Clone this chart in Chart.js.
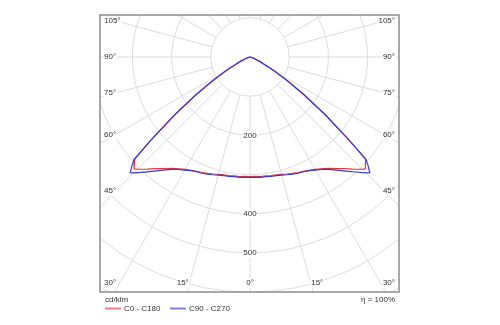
<!DOCTYPE html>
<html>
<head>
<meta charset="utf-8">
<script src="https://cdn.jsdelivr.net/npm/chart.js@4.4.1/dist/chart.umd.min.js"></script>
<style>
  html, body { margin: 0; padding: 0; background: #fff; }
</style>
</head>
<body>
<canvas id="lvk" width="500" height="325"></canvas>
<script>
// gamma angle in degrees, 0 = straight down, 180 = straight up
const gammas = [0, 2.5, 5, 7.5, 10, 12.5, 15, 17.5, 20, 22.5, 25, 27.5, 30, 32.5, 35, 37.5,
                40, 42.5, 45, 46, 47.5, 48.5, 50, 52.5, 55, 57.5, 60, 62.5, 65, 70, 75, 80, 90, 120, 150, 180];
// luminous intensity in cd/klm
const c0c180 = [305, 305, 306, 306, 307, 308, 310, 313, 316, 319, 322, 326, 331, 338, 347, 359,
                372, 388, 405, 411, 401, 392, 330, 242, 170, 115, 72, 45, 28, 10, 3, 0, 0, 0, 0, 0];
const c90c270 = [307, 307, 308, 308, 309, 310, 312, 315, 318, 321, 323, 327, 333, 340, 350, 364,
                 380, 398, 418, 425, 408, 395, 330, 242, 170, 115, 72, 45, 28, 10, 3, 0, 0, 0, 0, 0];
const seriesNames = ['C0 - C180', 'C90 - C270'];
const rings = [100, 200, 300, 400, 500, 600, 700, 800];
const ringLabels = [200, 400, 500];
const sideAngles = [45, 60, 75, 90, 105];
const bottomAngles = [0, 15, 30];
const unitText = 'cd/klm';
const efficiencyText = 'η = 100%';

const FONT = '8px "Liberation Sans", Arial, sans-serif';
const RED = '#e0393e';
const BLUE = '#3a3ad6';

// one closed outline: left half plane (C180 / C270) up to down, then right half back up
function outline(values) {
  const pts = [];
  for (let i = gammas.length - 1; i >= 0; i--) {
    const t = gammas[i] * Math.PI / 180;
    pts.push({ x: -values[i] * Math.sin(t), y: -values[i] * Math.cos(t) });
  }
  for (let i = 1; i < gammas.length; i++) {
    const t = gammas[i] * Math.PI / 180;
    pts.push({ x: values[i] * Math.sin(t), y: -values[i] * Math.cos(t) });
  }
  return pts;
}

function labelBox(ctx, text, x, y, align) {
  const w = ctx.measureText(text).width;
  let left = x - w / 2;
  if (align === 'left') left = x;
  if (align === 'right') left = x - w;
  ctx.fillStyle = '#fff';
  ctx.fillRect(left - 1, y - 5, w + 2, 10);
  ctx.fillStyle = '#333';
  ctx.textAlign = align;
  ctx.fillText(text, x, y);
}

const polarGrid = {
  id: 'polarGrid',
  beforeDatasetsDraw(chart) {
    const { ctx, chartArea: a, scales: { x, y } } = chart;
    const cx = x.getPixelForValue(0);
    const cy = y.getPixelForValue(0);
    const rad = v => x.getPixelForValue(v) - cx;

    ctx.save();
    ctx.beginPath();
    ctx.rect(a.left, a.top, a.right - a.left, a.bottom - a.top);
    ctx.clip();

    ctx.strokeStyle = '#dcdcdc';
    ctx.lineWidth = 1;
    rings.forEach(r => {
      ctx.beginPath();
      ctx.arc(cx, cy, rad(r), 0, Math.PI * 2);
      ctx.stroke();
    });
    // spokes every 15°, starting at the first ring
    for (let g = 0; g < 360; g += 15) {
      const t = g * Math.PI / 180;
      const s = Math.sin(t), c = Math.cos(t);
      ctx.beginPath();
      ctx.moveTo(cx + rad(rings[0]) * s, cy + rad(rings[0]) * c);
      ctx.lineTo(cx + rad(1000) * s, cy + rad(1000) * c);
      ctx.stroke();
    }

    ctx.font = FONT;
    ctx.textBaseline = 'middle';
    ringLabels.forEach(v => labelBox(ctx, String(v), cx, y.getPixelForValue(-v), 'center'));

    sideAngles.forEach(g => {
      const ty = cy + 134 / Math.tan(g * Math.PI / 180);
      labelBox(ctx, g + '°', a.left + 4, ty, 'left');
      labelBox(ctx, g + '°', a.right - 4, ty, 'right');
    });
    const by = a.bottom - 9;
    bottomAngles.forEach(g => {
      const dx = 251 * Math.tan(g * Math.PI / 180);
      if (g === 0) {
        labelBox(ctx, '0°', cx, by, 'center');
        return;
      }
      if (cx - dx < a.left + 12) {
        labelBox(ctx, g + '°', a.left + 4, by, 'left');
        labelBox(ctx, g + '°', a.right - 4, by, 'right');
      } else {
        labelBox(ctx, g + '°', cx - dx, by, 'center');
        labelBox(ctx, g + '°', cx + dx, by, 'center');
      }
    });
    ctx.restore();
  },
  afterDraw(chart) {
    const { ctx, chartArea: a } = chart;
    ctx.save();
    ctx.strokeStyle = '#8c8c8c';
    ctx.lineWidth = 1.5;
    ctx.strokeRect(a.left, a.top, a.right - a.left, a.bottom - a.top);

    // legend under the frame
    ctx.font = FONT;
    ctx.textBaseline = 'middle';
    ctx.fillStyle = '#333';
    ctx.textAlign = 'left';
    ctx.fillText(unitText, a.left + 5, a.bottom + 8);
    ctx.textAlign = 'right';
    ctx.fillText(efficiencyText, a.right - 4, a.bottom + 8);

    let lx = a.left + 5;
    const ly = a.bottom + 16.5;
    chart.data.datasets.forEach(ds => {
      ctx.strokeStyle = ds.borderColor;
      ctx.globalAlpha = 0.65;
      ctx.lineWidth = 2;
      ctx.beginPath();
      ctx.moveTo(lx, ly);
      ctx.lineTo(lx + 16, ly);
      ctx.stroke();
      ctx.globalAlpha = 1;
      ctx.fillStyle = '#333';
      ctx.textAlign = 'left';
      ctx.fillText(ds.label, lx + 19, ly);
      lx += 65;
    });
    ctx.restore();
  }
};

new Chart(document.getElementById('lvk'), {
  type: 'scatter',
  data: {
    datasets: [
      { label: seriesNames[0], data: outline(c0c180), borderColor: RED, order: 1 },
      { label: seriesNames[1], data: outline(c90c270), borderColor: BLUE, order: 0 }
    ]
  },
  options: {
    responsive: false,
    animation: false,
    devicePixelRatio: 1,
    layout: { padding: { left: 100, right: 101, top: 15, bottom: 33 } },
    datasets: {
      scatter: { showLine: true, pointRadius: 0, borderWidth: 1.2, tension: 0, fill: false }
    },
    scales: {
      x: { type: 'linear', display: false, min: -150 / 0.392, max: 149 / 0.392 },
      y: { type: 'linear', display: false, min: -235 / 0.392, max: 42 / 0.392 }
    },
    plugins: { legend: { display: false }, tooltip: { enabled: false } }
  },
  plugins: [polarGrid]
});
</script>
</body>
</html>
